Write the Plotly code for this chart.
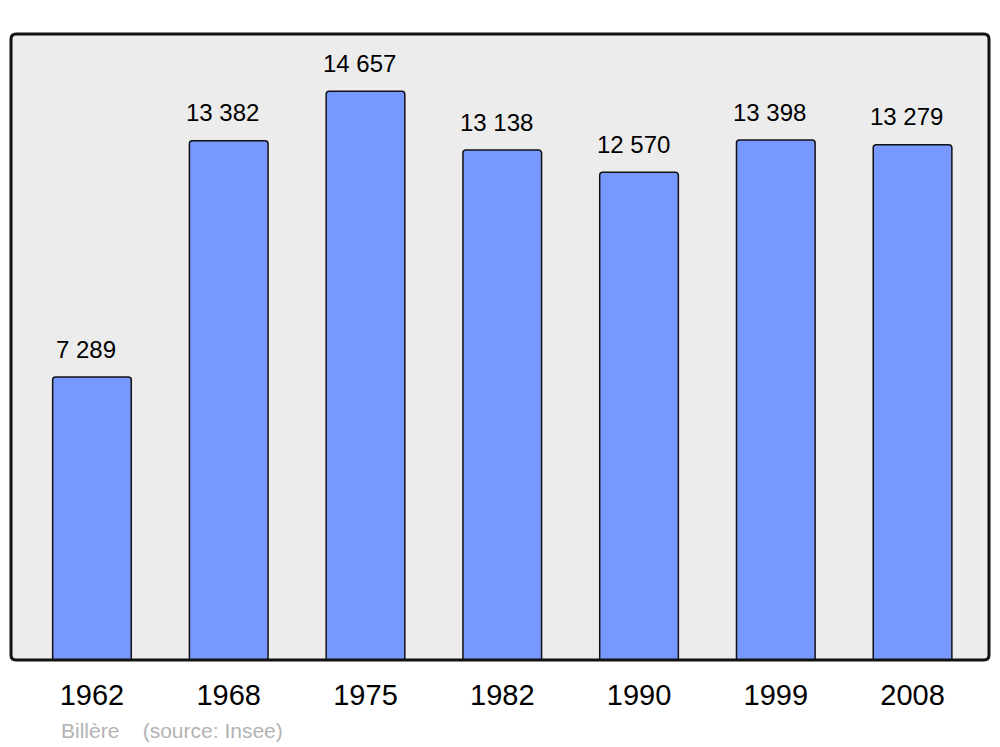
import plotly.graph_objects as go

years = ["1962", "1968", "1975", "1982", "1990", "1999", "2008"]
population = [7289, 13382, 14657, 13138, 12570, 13398, 13279]
source_text = "Billère    (source: Insee)"

# page body has an 8px margin, so the figure is 992x739 placed at (8,8)
W, H = 992, 739
ml, mr, mt, mb = 3, 11, 26, 87
pw, ph = W - ml - mr, H - mt - mb

pos = list(range(len(years)))
FONT = "Liberation Sans, Arial, sans-serif"

fig = go.Figure()
fig.add_trace(go.Bar(
    x=pos, y=population, width=0.575,
    marker=dict(color="#7799ff", line=dict(color="#111111", width=1.5), cornerradius=3),
    hoverinfo="skip",
))

for i, v in zip(pos, population):
    fig.add_annotation(
        x=i, y=v, xref="x", yref="y", text=f"{v:,}".replace(",", " "),
        showarrow=False, yanchor="middle", yshift=28, xshift=-6,
        font=dict(size=24, color="black", family=FONT),
    )

fig.add_annotation(
    x=(59 - 11) / pw, y=(660 - 730) / ph, xref="paper", yref="paper",
    text=source_text, showarrow=False, xanchor="left", yanchor="middle",
    font=dict(size=21, color="#b3b3b3", family=FONT),
)

# rounded frame around plot area
rx, ry = 5 / pw, 5 / ph
path = (f"M {rx},0 L {1-rx},0 Q 1,0 1,{ry} L 1,{1-ry} Q 1,1 {1-rx},1 "
        f"L {rx},1 Q 0,1 0,{1-ry} L 0,{ry} Q 0,0 {rx},0 Z")
fig.add_shape(type="path", path=path, xref="paper", yref="paper",
              line=dict(color="#111111", width=3), layer="above")

fig.update_layout(
    width=W, height=H,
    margin=dict(l=ml, r=mr, t=mt, b=mb, pad=0),
    paper_bgcolor="white", plot_bgcolor="#ececec",
    showlegend=False,
    font=dict(family=FONT, color="black"),
    xaxis=dict(range=[-0.592, 6.559], showgrid=False, zeroline=False,
               showline=False, ticks="", tickmode="array", tickvals=pos, ticktext=years,
               tickfont=dict(size=29, color="black"),
               ticklabelstandoff=15, fixedrange=True),
    yaxis=dict(range=[0, 16130], showgrid=False, zeroline=False, showline=False,
               showticklabels=False, ticks="", fixedrange=True),
)

fig.write_html("out.html")
